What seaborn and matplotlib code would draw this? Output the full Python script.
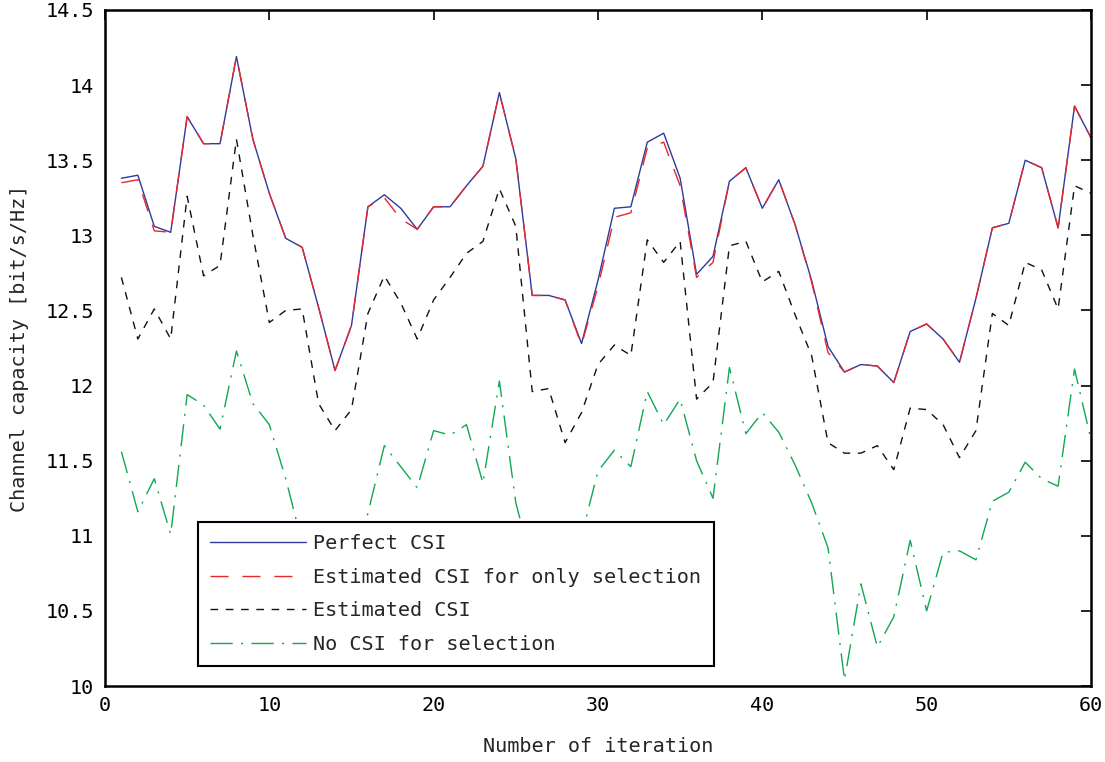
import pandas as pd
import seaborn as sns
import matplotlib.pyplot as plt
from matplotlib.ticker import FuncFormatter

# Data
iterations = list(range(1, 61))

perfect_csi = [13.38, 13.40, 13.06, 13.02, 13.79, 13.61, 13.61, 14.19, 13.64, 13.28,
               12.98, 12.92, 12.52, 12.10, 12.40, 13.19, 13.27, 13.18, 13.04, 13.19,
               13.19, 13.33, 13.46, 13.95, 13.51, 12.60, 12.60, 12.57, 12.28, 12.70,
               13.18, 13.19, 13.62, 13.68, 13.38, 12.74, 12.86, 13.36, 13.45, 13.18,
               13.37, 13.07, 12.70, 12.26, 12.09, 12.14, 12.13, 12.02, 12.36, 12.41,
               12.31, 12.155, 12.58, 13.05, 13.08, 13.50, 13.45, 13.05, 13.86, 13.65]

est_csi_selection = [13.35, 13.37, 13.03, 13.02, 13.79, 13.61, 13.61, 14.19, 13.64, 13.28,
                     12.98, 12.92, 12.52, 12.10, 12.40, 13.19, 13.25, 13.11, 13.04, 13.19,
                     13.19, 13.33, 13.46, 13.95, 13.51, 12.60, 12.60, 12.57, 12.27, 12.66,
                     13.12, 13.15, 13.58, 13.62, 13.33, 12.72, 12.82, 13.36, 13.45, 13.18,
                     13.37, 13.07, 12.69, 12.22, 12.09, 12.14, 12.13, 12.02, 12.36, 12.41,
                     12.31, 12.155, 12.58, 13.05, 13.08, 13.50, 13.45, 13.05, 13.86, 13.65]

est_csi = [12.72, 12.31, 12.51, 12.31, 13.26, 12.73, 12.80, 13.64, 13.00, 12.42,
           12.50, 12.51, 11.88, 11.70, 11.84, 12.48, 12.73, 12.55, 12.31, 12.57,
           12.72, 12.88, 12.96, 13.31, 13.06, 11.96, 11.98, 11.62, 11.82, 12.14,
           12.27, 12.20, 12.97, 12.82, 12.96, 11.91, 12.02, 12.93, 12.96, 12.69,
           12.76, 12.47, 12.20, 11.62, 11.55, 11.55, 11.60, 11.44, 11.85, 11.84,
           11.74, 11.52, 11.70, 12.48, 12.40, 12.82, 12.77, 12.51, 13.33, 13.28]

no_csi = [11.56, 11.16, 11.38, 11.01, 11.94, 11.87, 11.71, 12.23, 11.88, 11.74,
          11.38, 10.95, 10.62, 10.50, 10.75, 11.15, 11.60, 11.46, 11.32, 11.70,
          11.67, 11.74, 11.35, 12.03, 11.22, 10.80, 10.60, 10.75, 11.00, 11.43,
          11.57, 11.46, 11.96, 11.74, 11.91, 11.50, 11.25, 12.12, 11.68, 11.82,
          11.69, 11.47, 11.22, 10.92, 10.04, 10.68, 10.26, 10.46, 10.97, 10.50,
          10.89, 10.90, 10.84, 11.23, 11.29, 11.49, 11.38, 11.33, 12.11, 11.64]

methods = ['Perfect CSI', 'Estimated CSI for only selection', 'Estimated CSI', 'No CSI for selection']
series = [perfect_csi, est_csi_selection, est_csi, no_csi]
y_ticks = [10, 10.5, 11, 11.5, 12, 12.5, 13, 13.5, 14, 14.5]
x_ticks = [0, 10, 20, 30, 40, 50, 60]

df = pd.concat([pd.DataFrame({'iteration': iterations, 'capacity': vals, 'method': m})
                for m, vals in zip(methods, series)], ignore_index=True)

sns.set_style('white')
plt.rcParams['font.family'] = ['DejaVu Sans Mono', 'DejaVu Sans']

colors = {'Perfect CSI': '#2e3a9c',
          'Estimated CSI for only selection': '#e8262e',
          'Estimated CSI': '#111111',
          'No CSI for selection': '#10a850'}
dashes = {'Perfect CSI': '',
          'Estimated CSI for only selection': (13, 10),
          'Estimated CSI': (5.5, 5.5),
          'No CSI for selection': (16, 6, 1.5, 6)}

fig, ax = plt.subplots(figsize=(11.05, 7.62), dpi=100)
fig.subplots_adjust(left=0.095, right=0.9873, top=0.9869, bottom=0.0997)

sns.lineplot(data=df, x='iteration', y='capacity', hue='method', style='method',
             hue_order=methods, style_order=methods, palette=colors, dashes=dashes,
             linewidth=1.0, legend=False, ax=ax)

ax.set_xlim(0, 60)
ax.set_ylim(10, 14.5)
ax.set_xticks(x_ticks)
ax.set_yticks(y_ticks)
ax.yaxis.set_major_formatter(FuncFormatter(lambda v, p: '%g' % v))
ax.tick_params(direction='in', length=7, width=1.2, top=True, right=True,
               labelsize=14.5, colors='black')
ax.tick_params(axis='y', pad=8)
ax.tick_params(axis='x', pad=7)
for s in ax.spines.values():
    s.set_linewidth(1.8)
    s.set_color('black')

ax.set_xlabel('Number of iteration', fontsize=14.5, labelpad=16)
ax.set_ylabel('Channel capacity [bit/s/Hz]', fontsize=14.5, labelpad=12)

leg = ax.legend(ax.lines[:4], methods, loc='lower left', bbox_to_anchor=(0.094, 0.030),
                fontsize=14.5, handlelength=4.8, handletextpad=0.35, labelspacing=0.72,
                borderpad=0.6, borderaxespad=0, fancybox=False, framealpha=1,
                edgecolor='black')
leg.get_frame().set_linewidth(1.5)

fig.savefig('out.png', dpi=100)
